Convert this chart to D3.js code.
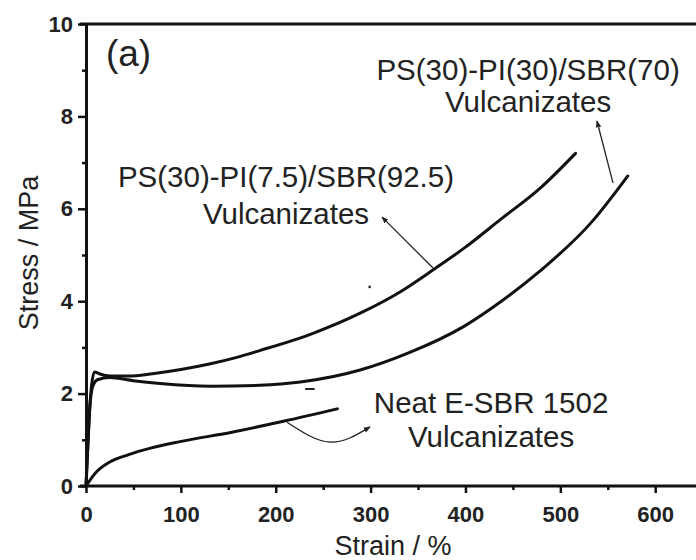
<!DOCTYPE html>
<html><head><meta charset="utf-8">
<script src="https://cdn.jsdelivr.net/npm/d3@7"></script>
<style>body{margin:0;background:#fff}svg{display:block}text{font-family:"Liberation Sans",Arial,sans-serif;fill:#222}</style>
</head><body><svg id="c" width="696" height="560"></svg>
<script>
// ---- data (strain %, stress MPa) ----
const seriesPI75 = [[0,0],[2,0.9],[4,1.7],[6,2.2],[9,2.47],[14,2.43],[25,2.38],[45,2.38],[70,2.43],[100,2.52],[130,2.64],[160,2.79],[183,2.93],[240,3.31],[289,3.74],[331,4.2],[366,4.68],[400,5.17],[437,5.77],[480,6.47],[516,7.2]];
const seriesPI30 = [[0,0],[2,0.9],[4,1.7],[7,2.15],[12,2.3],[25,2.35],[50,2.28],[78,2.22],[131,2.16],[183,2.18],[226,2.25],[289,2.51],[340,2.88],[398,3.45],[440,4.03],[479,4.66],[532,5.69],[571,6.71]];
const seriesNeat = [[0,0],[5,0.15],[10,0.28],[15,0.38],[25,0.52],[45,0.68],[68,0.82],[99,0.96],[155,1.17],[208,1.4],[265,1.67]];
const xTicks = [0,100,200,300,400,500,600];
const xMinor = [50,150,250,350,450,550];
const yTicks = [0,2,4,6,8,10];
const yMinor = [1,3,5,7,9];
const labels = [
  {x:210.8, lines:[[6.47,"PS(30)-PI(7.5)/SBR(92.5)"],[5.67,"Vulcanizates"]]},
  {x:466, lines:[[8.79,"PS(30)-PI(30)/SBR(70)"],[8.10,"Vulcanizates"]]},
  {x:427, lines:[[1.58,"Neat E-SBR 1502"],[0.84,"Vulcanizates"]]}
];
const arrows = [
  [[365.8,4.72],[312,5.82]],
  [[555.5,6.56],[538.6,7.90]]
];
const curvedArrow = [[211.9,1.38],[257.2,0.95],[299.4,1.28]];

const svg = d3.select("#c");
const x = d3.scaleLinear().domain([0,643]).range([86,696]);
const y = d3.scaleLinear().domain([0,10]).range([486,24]);

svg.append("defs").append("marker").attr("id","ah").attr("viewBox","0 0 10 10")
  .attr("refX",9).attr("refY",5).attr("markerWidth",7).attr("markerHeight",7)
  .attr("markerUnits","userSpaceOnUse").attr("orient","auto")
  .append("path").attr("d","M0,1L10,5L0,9Z").attr("fill","#222");

// axes
const gx = svg.append("g").attr("transform","translate(0,486)")
  .call(d3.axisBottom(x).tickValues(xTicks).tickSize(7).tickSizeOuter(0).tickPadding(13));
gx.append("g").call(d3.axisBottom(x).tickValues(xMinor).tickSize(4).tickFormat(""))
  .select(".domain").remove();
const gxTop = svg.append("line").attr("x1",80).attr("x2",696).attr("y1",24).attr("y2",24);
const gy = svg.append("g").attr("transform","translate(86,0)")
  .call(d3.axisLeft(y).tickValues(yTicks).tickSize(8).tickSizeOuter(0).tickPadding(5));
gy.append("g").call(d3.axisLeft(y).tickValues(yMinor).tickSize(4).tickFormat(""))
  .select(".domain").remove();
svg.selectAll(".domain").attr("stroke","#111").attr("stroke-width",3);
svg.selectAll(".tick line").attr("stroke","#111").attr("stroke-width",2.5);
gxTop.attr("stroke","#111").attr("stroke-width",3);
svg.append("line").attr("x1",80).attr("x2",86).attr("y1",486).attr("y2",486).attr("stroke","#111").attr("stroke-width",3);
svg.selectAll(".tick text").attr("font-size",22).attr("font-weight","bold")
  .attr("fill","#222").attr("font-family","'Liberation Sans',Arial,sans-serif");
gx.select(".domain").attr("d","M86,0H696");

// curves
const line = d3.line().x(d=>x(d[0])).y(d=>y(d[1])).curve(d3.curveMonotoneX);
[seriesPI75, seriesPI30, seriesNeat].forEach(s=>{
  svg.append("path").attr("d",line(s)).attr("fill","none").attr("stroke","#111")
    .attr("stroke-width",3).attr("stroke-linejoin","round").attr("stroke-linecap","round");
});

// annotations
labels.forEach(l=>{
  l.lines.forEach(([yy,t])=>{
    svg.append("text").attr("x",x(l.x)).attr("y",y(yy)).attr("text-anchor","middle")
      .attr("font-size",29.5).text(t);
  });
});
svg.append("text").attr("x",x(21)).attr("y",y(9.1)).attr("font-size",37).text("(a)");
arrows.forEach(a=>{
  svg.append("line").attr("x1",x(a[0][0])).attr("y1",y(a[0][1])).attr("x2",x(a[1][0])).attr("y2",y(a[1][1]))
    .attr("stroke","#222").attr("stroke-width",1.3).attr("marker-end","url(#ah)");
});
svg.append("path").attr("d",d3.line().x(d=>x(d[0])).y(d=>y(d[1])).curve(d3.curveNatural)(curvedArrow))
  .attr("fill","none").attr("stroke","#222").attr("stroke-width",1.3).attr("marker-end","url(#ah)");
// stray marks
svg.append("line").attr("x1",x(231)).attr("x2",x(241)).attr("y1",y(2.1)).attr("y2",y(2.1)).attr("stroke","#222").attr("stroke-width",2);
svg.append("circle").attr("cx",x(299)).attr("cy",y(4.31)).attr("r",1.3).attr("fill","#222");

// axis titles
svg.append("text").attr("x",393).attr("y",555).attr("text-anchor","middle").attr("font-size",27).text("Strain / %");
svg.append("text").attr("transform","translate(38,253) rotate(-90)").attr("text-anchor","middle").attr("font-size",27).text("Stress / MPa");
</script></body></html>
